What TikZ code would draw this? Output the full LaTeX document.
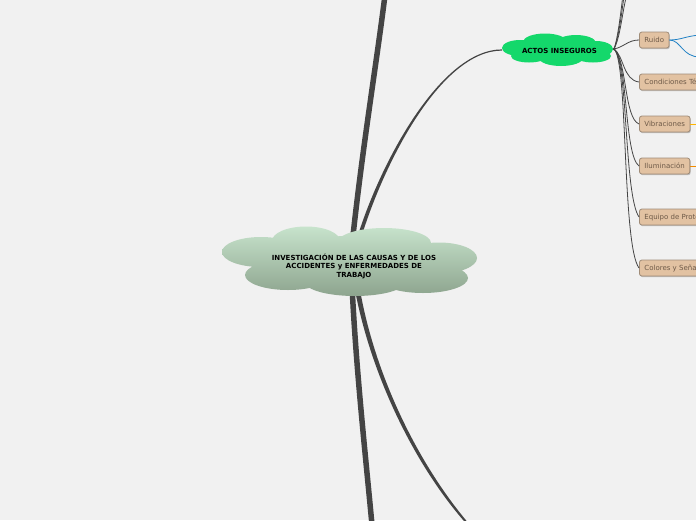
\documentclass[tikz,border=0pt]{standalone}
\usepackage{fontspec}
\setmainfont{DejaVu Sans}
\usetikzlibrary{shadows}
\definecolor{bg}{HTML}{F1F1F1}
\definecolor{lnk}{HTML}{444444}
\definecolor{cloudtop}{HTML}{C7E3CC}
\definecolor{cloudbot}{HTML}{8DA48E}
\definecolor{actos}{HTML}{14D86B}
\definecolor{boxfill}{HTML}{E2C2A2}
\definecolor{boxdraw}{HTML}{A08C78}
\definecolor{boxtext}{HTML}{6E5A48}
\definecolor{blueln}{HTML}{1F80C4}
\definecolor{yelln}{HTML}{FFB400}
\definecolor{orgln}{HTML}{F08A00}
\begin{document}
\begin{tikzpicture}[x=1pt,y=-1pt,
  topic/.style={draw=boxdraw, fill=boxfill, rounded corners=2.5pt, line width=0.8pt,
    text=boxtext, font=\fontsize{7}{8}\selectfont, minimum height=16pt,
    inner xsep=5pt, inner ysep=0pt, anchor=west,
    drop shadow={shadow xshift=0.8pt, shadow yshift=-1.2pt, opacity=0.45}},
  conn/.style={draw=lnk, line width=0.8pt},
  thick conn/.style={draw=lnk, line width=5.5pt},
  taper/.style={fill=lnk},
  maintext/.style={font=\bfseries\fontsize{7}{8.5}\selectfont, align=center, text=black},
]
\useasboundingbox (0,0) rectangle (696,520);
\fill[bg] (0,0) rectangle (696,520);
\clip (0,0) rectangle (696,520);

% coordinates for connector ends
\coordinate (cTop) at (352,245);
\coordinate (cBot) at (352,285);
\coordinate (topEnd) at (385,-5);
\coordinate (botEnd) at (372,525);

% main connectors (behind the central cloud)
\draw[thick conn] (cTop) .. controls (362,150) and (377,60) .. (topEnd);
\draw[thick conn] (cBot) .. controls (356,370) and (366,460) .. (botEnd);
\fill[taper] (356.5,240) .. controls (379,165) and (440,49.4) .. (502,49.4)
  -- (502,50.6) .. controls (440,50.6) and (382,167) .. (360.5,240) -- cycle;
\fill[taper] (355,290) .. controls (372,380) and (418,470) .. (467.5,525)
  -- (470,525) .. controls (421,468) and (376,380) .. (360,290) -- cycle;

% central cloud
\shade[top color=cloudtop, bottom color=cloudbot]
  (306,241) ellipse [x radius=34, y radius=14.5]
  (384,243) ellipse [x radius=47, y radius=15]
  (261,252) ellipse [x radius=39, y radius=15]
  (439,258) ellipse [x radius=38, y radius=15.5]
  (288,275) ellipse [x radius=43, y radius=15]
  (355,282) ellipse [x radius=50, y radius=14]
  (423,278) ellipse [x radius=45, y radius=15]
  (352,262) ellipse [x radius=100, y radius=26];
\node[maintext] (center) at (354,266)
  {INVESTIGACIÓN DE LAS CAUSAS Y DE LOS\\ACCIDENTES y ENFERMEDADES DE\\TRABAJO};

% ACTOS INSEGUROS cloud
\fill[actos]
  (520,48) ellipse [x radius=18, y radius=8]
  (545,42) ellipse [x radius=22, y radius=8.5]
  (576,43) ellipse [x radius=20, y radius=8]
  (596,49) ellipse [x radius=17, y radius=8]
  (529,56) ellipse [x radius=18, y radius=6.5]
  (561,58) ellipse [x radius=22, y radius=8]
  (593,56) ellipse [x radius=18, y radius=6.5]
  (557,50) ellipse [x radius=46, y radius=10];
\node[maintext] (actos) at (559.5,51) {ACTOS INSEGUROS};

\coordinate (jn) at (614,49);

% sub topics
\node[topic] (ruido) at (639,40) {Ruido};
\node[topic] (cond) at (639,82) {Condiciones Térmicas};
\node[topic] (vib) at (639,124) {Vibraciones};
\node[topic] (ilum) at (639,166) {Iluminación};
\node[topic] (equipo) at (639,217) {Equipo de Protección Personal};
\node[topic] (colores) at (639,268) {Colores y Señalización};

% branches above the picture
\coordinate (up1) at (639,-30);
\coordinate (up2) at (639,-75);
\coordinate (up3) at (639,-125);
\draw[conn] (jn) .. controls (624,30) and (622,-15) .. (up1);
\draw[conn] (jn) .. controls (624,25) and (626,-55) .. (up2);
\draw[conn] (jn) .. controls (624,20) and (629,-100) .. (up3);

% branches to the sub topics
\draw[conn] (jn) .. controls (624,47) and (628,40) .. (ruido.west);
\draw[conn] (jn) .. controls (624,56) and (623,80) .. (cond.west);
\draw[conn] (jn) .. controls (627,60) and (624,118) .. (vib.west);
\draw[conn] (jn) .. controls (628,60) and (624,155) .. (ilum.west);
\draw[conn] (jn) .. controls (628,60) and (624,195) .. (equipo.west);
\draw[conn] (jn) .. controls (628,60) and (622,245) .. (colores.west);
\fill[lnk] (jn) circle (1.4);

% outgoing lines at the right edge
\coordinate (b1) at (700,35);
\coordinate (b2) at (700,57);
\coordinate (v1) at (700,124);
\coordinate (i1) at (700,166);
\draw[blueln, line width=0.8pt] (ruido.east) .. controls (681,40) and (686,36) .. (b1);
\draw[blueln, line width=0.8pt] (ruido.east) .. controls (681,40) and (682,57) .. (b2);
\draw[yelln, line width=0.8pt] (vib.east) -- (v1);
\draw[orgln, line width=0.8pt] (ilum.east) -- (i1);
\end{tikzpicture}
\end{document}
